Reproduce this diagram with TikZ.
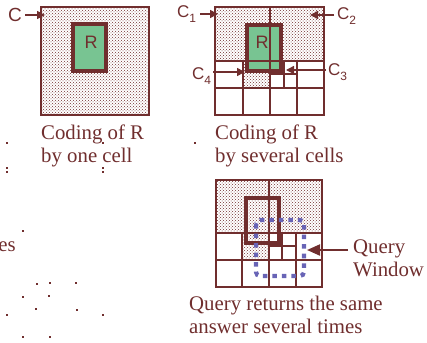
\documentclass[tikz,border=0pt]{standalone}
\usepackage{fontspec}
\setmainfont{Liberation Serif}
\newfontfamily\labelfont{Liberation Sans}
\usetikzlibrary{patterns,arrows.meta}
\definecolor{maroon}{RGB}{112,46,46}
\definecolor{rgreen}{RGB}{120,196,146}
\definecolor{qblue}{RGB}{104,100,182}
\newcommand\csub[1]{C\raisebox{-5pt}{\fontsize{12}{12}\selectfont #1}}
\tikzset{
  shaded/.style={pattern=crosshatch dots, pattern color=maroon},
  gridline/.style={draw=maroon, line width=1.9pt},
  frame/.style={draw=maroon, line width=2.4pt},
  rbox/.style={draw=maroon, line width=3.6pt},
  caption/.style={font=\fontsize{20.8}{23}\selectfont, text=maroon, anchor=base west, inner sep=0pt},
  lbl/.style={font=\labelfont\fontsize{17}{17}\selectfont, text=maroon, anchor=base west, inner sep=0pt},
  ptr/.style={draw=maroon, line width=1.5pt, -{Triangle[length=8pt,width=8pt]}},
  bigptr/.style={draw=maroon, line width=2pt, -{Triangle[length=13pt,width=11pt]}},
  window/.style={draw=qblue, line width=4.2pt, dash pattern=on 4.5pt off 5pt, rounded corners=4pt},
  speck/.style={fill=maroon, inner sep=0pt, minimum size=1.3pt},
}
\begin{document}
\begin{tikzpicture}[x=1pt, y=-1pt]
\useasboundingbox (0,0) rectangle (427,342);

% ---- one cell ----
\fill[shaded] (41,7) rectangle (149,115);
\fill[rgreen] (73,24) rectangle (106,71);
\draw[rbox] (73,24) rectangle (106,71);
\draw[frame] (41,7) rectangle (149,115);
\node[font=\labelfont\fontsize{18}{18}\selectfont, text=maroon] (r1) at (91,42) {R};
\node[lbl, font=\labelfont\fontsize{19}{19}\selectfont] (cA) at (8,22) {C};
\coordinate (tA) at (45,15);
\draw[ptr] ([xshift=3pt]cA.east |- tA) -- (tA);
\node[caption] (cap1a) at (41,139) {Coding of R};
\node[caption] (cap1b) at (41,162) {by one cell};

% ---- several cells ----
\fill[shaded] (215,7) rectangle (324,61);
\fill[shaded] (243,61) rectangle (270,88);
\fill[rgreen] (247,25) rectangle (281,71);
\draw[gridline] (215,61) -- (324,61) (215,88) -- (324,88)
  (270,7) -- (270,115) (243,61) -- (243,115) (297,61) -- (297,115)
  (270,74) -- (297,74) (284,61) -- (284,88);
\draw[rbox] (247,25) rectangle (281,71);
\draw[frame] (215,7) rectangle (324,115);
\node[font=\labelfont\fontsize{18}{18}\selectfont, text=maroon] (r2) at (262,42) {R};
\node[lbl] (c1) at (177,18) {\csub{1}};
\node[lbl] (c2) at (337,19.5) {\csub{2}};
\node[lbl] (c3) at (328,76) {\csub{3}};
\node[lbl] (c4) at (192,80) {\csub{4}};
\coordinate (t1) at (218,14);
\coordinate (t2) at (310,15);
\coordinate (t3) at (286,70);
\coordinate (t4) at (245,72);
\draw[ptr] ([xshift=4pt]c1.east |- t1) -- (t1);
\draw[ptr] ([xshift=-3pt]c2.west |- t2) -- (t2);
\draw[ptr] ([xshift=-2pt]c3.west |- t3) -- (t3);
\draw[ptr] ([xshift=2pt]c4.east |- t4) -- (t4);
\node[caption] (cap2a) at (215,139) {Coding of R};
\node[caption] (cap2b) at (215,162) {by several cells};

% ---- query ----
\fill[shaded] (216,180) rectangle (322,233);
\fill[shaded] (242,233) rectangle (269,260);
\draw[gridline] (216,233) -- (322,233) (216,260) -- (322,260)
  (269,180) -- (269,287) (242,233) -- (242,287) (296,233) -- (296,287)
  (269,246) -- (296,246) (282,233) -- (282,260);
\draw[frame] (216,180) rectangle (322,287);
\draw[rbox] (246,198) rectangle (279,243);
\draw[window] (256,220) rectangle (304,276);
\node[caption] (q1) at (353,253) {Query};
\node[caption] (q2) at (353,276) {Window};
\coordinate (tq) at (307,250);
\draw[bigptr] ([xshift=-5pt]q1.west |- tq) -- (tq);
\node[caption] (cap3a) at (189,310) {Query returns the same};
\node[caption] (cap3b) at (189,333) {answer several times};

% ---- leftover text and specks at the left edge ----
\node[caption, anchor=base east] (frag) at (16,251) {es};
\foreach \p [count=\i] in {(7,143),(7,168),(103,143),(103,168),(195,143),
  (7,172),(103,172),(23,231),(37,284),(50,283),(76,283),(23,297),(49,296),
  (36,309),(77,310),(7,315),(103,315),(23,337),(50,337)}
  \node[speck] (s\i) at \p {};
\end{tikzpicture}
\end{document}
